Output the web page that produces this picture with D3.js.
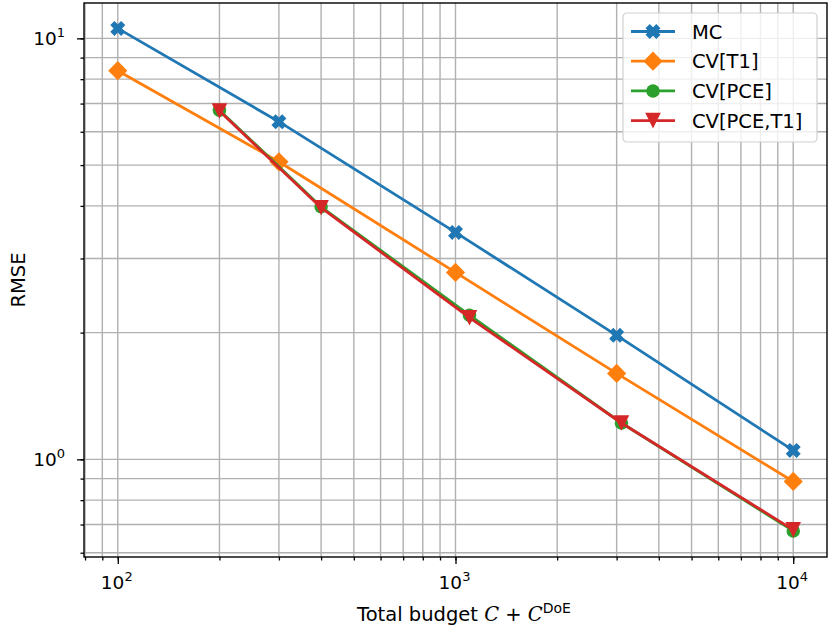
<!DOCTYPE html>
<html>
<head>
<script src="https://d3js.org/d3.v7.min.js"></script>
<style>
	body, html {
		margin: 0;
		padding: 0;
		background: #fff;
	}
	text {
		font-family: "DejaVu Sans", sans-serif;
		fill: #000;
	}
	.grid line {
		stroke: #b0b0b0;
		stroke-width: 1.4;
	}
	.axis path, .axis line {
		stroke: #000;
		stroke-width: 1.3;
	}
</style>
</head>
<body>
<script>

	// data
	var seriesNames = ["MC", "CV[T1]", "CV[PCE]", "CV[PCE,T1]"];
	var seriesColors = ["#1f77b4", "#ff7f0e", "#2ca02c", "#d62728"];
	var seriesMarkers = ["X", "diamond", "circle", "triangleDown"];

	var budgetMC = [100, 300, 1000, 3000, 10000];
	var rmseMC = [10.56, 6.34, 3.46, 1.97, 1.05];

	var budgetT1 = [100, 300, 1000, 3000, 10000];
	var rmseT1 = [8.38, 5.09, 2.78, 1.60, 0.886];

	var budgetPCE = [200, 400, 1100, 3100, 10000];
	var rmsePCE = [6.75, 3.98, 2.20, 1.22, 0.676];

	var budgetPCET1 = [200, 400, 1100, 3100, 10000];
	var rmsePCET1 = [6.72, 3.96, 2.17, 1.22, 0.68];

	var xTickLabels = ["2", "3", "4"];
	var yTickLabels = ["0", "1"];

	var w = 830, h = 631;
	var margin = {top: 3, right: 3, bottom: 74, left: 84};
	var width = w - margin.left - margin.right;
	var height = h - margin.top - margin.bottom;

	var series = [
		{x: budgetMC, y: rmseMC},
		{x: budgetT1, y: rmseT1},
		{x: budgetPCE, y: rmsePCE},
		{x: budgetPCET1, y: rmsePCET1}
	];

	var x = d3.scaleLog()
				.domain([Math.pow(10, 1.9), Math.pow(10, 4.1)])
				.range([0, width]);

	var y = d3.scaleLog()
				.domain([Math.pow(10, -0.232), Math.pow(10, 1.084)])
				.range([height, 0]);

	var svg = d3.select("body").append("svg")
				.attr("width", w)
				.attr("height", h);

	var chart = svg.append("g")
				.attr("transform", "translate(" + margin.left + "," + margin.top + ")");

	// tick values, major and minor
	function logTicks(scale) {
		var d = scale.domain(), out = [];
		var lo = Math.floor(Math.log10(d[0])), hi = Math.ceil(Math.log10(d[1]));
		for (var e = lo; e <= hi; e++) {
			for (var m = 1; m <= 9; m++) {
				var v = m * Math.pow(10, e);
				if (v >= d[0] && v <= d[1]) out.push(v);
			}
		}
		return out;
	}
	var xAll = logTicks(x), yAll = logTicks(y);
	var xMajor = xTickLabels.map(function(e){ return Math.pow(10, +e); });
	var yMajor = yTickLabels.map(function(e){ return Math.pow(10, +e); });

	// grid
	chart.append("g").attr("class", "grid")
		.selectAll("line").data(xAll).enter().append("line")
		.attr("x1", function(d){ return x(d); })
		.attr("x2", function(d){ return x(d); })
		.attr("y1", 0).attr("y2", height);
	chart.append("g").attr("class", "grid")
		.selectAll("line").data(yAll).enter().append("line")
		.attr("y1", function(d){ return y(d); })
		.attr("y2", function(d){ return y(d); })
		.attr("x1", 0).attr("x2", width);

	// axes: minor ticks and major ticks
	var xMinorAxis = d3.axisBottom(x).tickValues(xAll).tickSize(3.5).tickFormat("");
	var yMinorAxis = d3.axisLeft(y).tickValues(yAll).tickSize(3.5).tickFormat("");
	chart.append("g").attr("class", "axis")
		.attr("transform", "translate(0," + height + ")")
		.call(xMinorAxis);
	chart.append("g").attr("class", "axis").call(yMinorAxis);

	var xAxis = d3.axisBottom(x).tickValues(xMajor).tickSize(7).tickFormat("");
	var yAxis = d3.axisLeft(y).tickValues(yMajor).tickSize(7).tickFormat("");
	chart.append("g").attr("class", "axis")
		.attr("transform", "translate(0," + height + ")")
		.call(xAxis);
	chart.append("g").attr("class", "axis").call(yAxis);
	chart.selectAll(".axis .domain").remove();

	// tick labels as 10^n
	xMajor.forEach(function(v, i){
		var t = chart.append("text")
			.attr("x", x(v) - 1).attr("y", height + 32)
			.attr("text-anchor", "middle")
			.style("font-size", "18.5px");
		t.append("tspan").text("10");
		t.append("tspan").attr("dy", -8).style("font-size", "13px").text(xTickLabels[i]);
	});
	yMajor.forEach(function(v, i){
		var t = chart.append("text")
			.attr("x", -19).attr("y", y(v) + 7)
			.attr("text-anchor", "end")
			.style("font-size", "18.5px");
		t.append("tspan").text("10");
		t.append("tspan").attr("dy", -8).style("font-size", "13px").text(yTickLabels[i]);
	});

	// frame
	chart.append("rect")
		.attr("x", 0).attr("y", 0)
		.attr("width", width).attr("height", height)
		.attr("fill", "none").attr("stroke", "#000").attr("stroke-width", 1.4);

	// markers
	function markerPath(type, s) {
		if (type === "X") {
			var a = s * 0.5, b = s * 0.28;
			return "M" + (-a) + "," + (-a + b) + "L" + (-a + b) + "," + (-a) + "L0," + (-b) +
				"L" + (a - b) + "," + (-a) + "L" + a + "," + (-a + b) + "L" + b + ",0" +
				"L" + a + "," + (a - b) + "L" + (a - b) + "," + a + "L0," + b +
				"L" + (-a + b) + "," + a + "L" + (-a) + "," + (a - b) + "L" + (-b) + ",0Z";
		}
		if (type === "diamond") {
			var r = s * 0.64;
			return "M0," + (-r) + "L" + r + ",0L0," + r + "L" + (-r) + ",0Z";
		}
		if (type === "circle") {
			var c = s * 0.45;
			return "M" + c + ",0A" + c + "," + c + " 0 1,1 " + (-c) + ",0A" + c + "," + c + " 0 1,1 " + c + ",0Z";
		}
		var t = s * 0.52;
		return "M" + (-t) + "," + (-t) + "L" + t + "," + (-t) + "L0," + t + "Z";
	}

	var line = d3.line()
		.x(function(d){ return x(d[0]); })
		.y(function(d){ return y(d[1]); });

	series.forEach(function(s, i){
		var pts = s.x.map(function(v, j){ return [v, s.y[j]]; });
		var g = chart.append("g");
		g.append("path")
			.attr("d", line(pts))
			.attr("fill", "none")
			.attr("stroke", seriesColors[i])
			.attr("stroke-width", 2.8);
		g.selectAll(".pt").data(pts).enter().append("path")
			.attr("transform", function(d){ return "translate(" + x(d[0]) + "," + y(d[1]) + ")"; })
			.attr("d", markerPath(seriesMarkers[i], 15))
			.attr("fill", seriesColors[i]);
	});

	// legend
	var lg = chart.append("g").attr("transform", "translate(" + (623 - margin.left) + "," + (13 - margin.top) + ")");
	lg.append("rect")
		.attr("width", 194).attr("height", 129)
		.attr("rx", 4)
		.attr("fill", "#fff").attr("fill-opacity", 0.8)
		.attr("stroke", "#d0d0d0").attr("stroke-width", 1.2);
	seriesNames.forEach(function(name, i){
		var yy = 18.5 + i * 29.7;
		lg.append("line")
			.attr("x1", 8).attr("x2", 52)
			.attr("y1", yy).attr("y2", yy)
			.attr("stroke", seriesColors[i]).attr("stroke-width", 2.8);
		lg.append("path")
			.attr("transform", "translate(30," + yy + ")")
			.attr("d", markerPath(seriesMarkers[i], 15))
			.attr("fill", seriesColors[i]);
		lg.append("text")
			.attr("x", 69).attr("y", yy + 7)
			.style("font-size", "19.5px")
			.text(name);
	});

	// axis labels
	svg.append("text")
		.attr("transform", "translate(25," + (margin.top + height / 2) + ") rotate(-90)")
		.attr("text-anchor", "middle")
		.style("font-size", "19.5px")
		.text("RMSE");

	var xl = svg.append("text")
		.attr("x", 464)
		.attr("y", 621)
		.attr("text-anchor", "middle")
		.style("font-size", "19.5px");
	xl.append("tspan").text("Total budget ");
	xl.append("tspan").style("font-family", "'DejaVu Serif', serif").style("font-style", "italic").text("C");
	xl.append("tspan").text(" + ");
	xl.append("tspan").style("font-family", "'DejaVu Serif', serif").style("font-style", "italic").text("C");
	xl.append("tspan").attr("dy", -8).style("font-size", "14px").text("DoE");

</script>
</body>
</html>
